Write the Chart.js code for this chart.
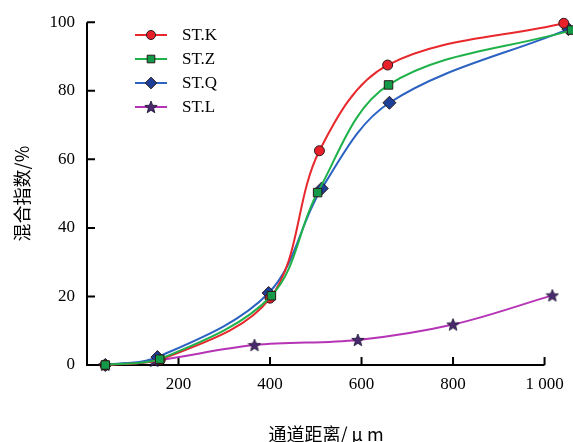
<!DOCTYPE html>
<html><head><meta charset="utf-8">
<script src="https://cdn.jsdelivr.net/npm/chart.js@4/dist/chart.umd.min.js"></script>
<style>html,body{margin:0;padding:0;background:#fff}#wrap{width:573px;height:442px}</style>
</head><body><div id="wrap"><canvas id="c" width="573" height="442"></canvas></div>
<script>
const seriesNames = ['ST.K','ST.Z','ST.Q','ST.L'];
const kX = [40,160,400,508,657,1042];
const kY = [0,1.5,19.5,62.5,87.5,99.7];
const zX = [40,159,403,504,659,1059];
const zY = [0,1.7,20.2,50.3,81.7,97.7];
const qX = [40,154,397,513,661,1052];
const qY = [0,2.3,21,51.5,76.5,98];
const lX = [40,147,366,592,800,1017];
const lY = [0,1.2,5.8,7.3,11.8,20.3];
const xTicks = [200,400,600,800,1000];
const yTicks = [20,40,60,80,100];
const yTitle = '混合指数/%';
const xTitle = '通道距离/ μ m';

function pts(xs, ys){ return xs.map((x,i)=>({x:x,y:ys[i]})); }

const star = document.createElement('canvas');
star.width = 14; star.height = 14;
(function(){
  const g = star.getContext('2d');
  g.beginPath();
  for(let i=0;i<10;i++){
    const r = i%2===0 ? 6.5 : 2.8;
    const a = -Math.PI/2 + i*Math.PI/5;
    const px = 7 + r*Math.cos(a), py = 7.5 + r*Math.sin(a);
    if(i===0) g.moveTo(px,py); else g.lineTo(px,py);
  }
  g.closePath();
  g.fillStyle = '#4a2a6e'; g.fill();
  g.strokeStyle = '#1a1030'; g.lineWidth = 0.8; g.stroke();
})();

const common = {borderWidth:2, tension:0.35, clip:false, pointBorderWidth:1, pointBorderColor:'#2a1a1a'};
const datasets = [
  Object.assign({label:seriesNames[0], order:1, data:pts(kX,kY), borderColor:'#e8282c', backgroundColor:'#e8202a', pointStyle:'circle', pointRadius:5}, common),
  Object.assign({label:seriesNames[1], order:0, data:pts(zX,zY), borderColor:'#1fb24a', backgroundColor:'#139a48', pointStyle:'rect', pointRadius:6}, common),
  Object.assign({label:seriesNames[2], order:2, data:pts(qX,qY), borderColor:'#2c62c2', backgroundColor:'#1e3f98', pointStyle:'rectRot', pointRadius:6.5}, common),
  Object.assign({label:seriesNames[3], order:3, data:pts(lX,lY), borderColor:'#b534b5', backgroundColor:'#4a2a6e', pointStyle:star, pointRadius:6}, common)
];

const axesPlugin = {
  id:'axesPlugin',
  beforeDatasetsDraw(chart){
    const ctx = chart.ctx, xs = chart.scales.x, ys = chart.scales.y;
    const x0 = xs.getPixelForValue(0), y0 = ys.getPixelForValue(0);
    ctx.save();
    ctx.strokeStyle = '#000'; ctx.lineWidth = 2; ctx.lineCap='butt';
    ctx.beginPath();
    ctx.moveTo(x0, ys.getPixelForValue(100));
    ctx.lineTo(x0, y0);
    ctx.lineTo(xs.getPixelForValue(1000), y0);
    ctx.stroke();
    ctx.beginPath();
    yTicks.forEach(v=>{ const p = ys.getPixelForValue(v); ctx.moveTo(x0,p); ctx.lineTo(x0+8,p); });
    xTicks.forEach(v=>{ const p = xs.getPixelForValue(v); ctx.moveTo(p,y0); ctx.lineTo(p,y0-8); });
    ctx.stroke();
    ctx.restore();
  },
  afterDraw(chart){
    const ctx = chart.ctx;
    ctx.save();
    chart.data.datasets.forEach((ds,i)=>{
      const y = 35 + i*24;
      ctx.strokeStyle = ds.borderColor; ctx.lineWidth = 2;
      ctx.beginPath(); ctx.moveTo(135,y); ctx.lineTo(167,y); ctx.stroke();
      ctx.fillStyle = ds.backgroundColor; ctx.strokeStyle = ds.pointBorderColor; ctx.lineWidth = 1;
      Chart.helpers.drawPoint(ctx, {pointStyle: ds.pointStyle, radius: ds.pointRadius*0.9, borderWidth:1, rotation:0}, 151, y);
      ctx.fillStyle = '#000'; ctx.font = '17px "Liberation Serif"'; ctx.textBaseline = 'middle'; ctx.textAlign='left';
      ctx.fillText(ds.label, 182, y+1);
    });
    ctx.restore();
  }
};

new Chart(document.getElementById('c'), {
  type:'line',
  data:{datasets:datasets},
  options:{
    responsive:false, animation:false,
    layout:{padding:{left:0, top:21, right:0, bottom:0}},
    plugins:{legend:{display:false}, tooltip:{enabled:false}},
    scales:{
      x:{type:'linear', min:0, max:1045,
        afterFit(s){ s.height = 77; },
        afterBuildTicks(s){ s.ticks = xTicks.map(v=>({value:v})); },
        grid:{display:false, drawTicks:false}, border:{display:false},
        ticks:{padding:9, color:'#000', font:{family:'"Liberation Serif"', size:17},
          callback:(v)=> v===1000 ? '1 000' : String(v)},
        title:{display:true, text:xTitle, color:'#000', padding:{top:0,bottom:0},
          font:{family:'"Noto Sans CJK SC"', size:18, lineHeight:0.9}}
      },
      y:{type:'linear', min:0, max:100,
        afterFit(s){ s.width = 87; },
        afterBuildTicks(s){ s.ticks = [0].concat(yTicks).map(v=>({value:v})); },
        grid:{display:false, drawTicks:false}, border:{display:false},
        ticks:{padding:12, color:'#000', font:{family:'"Liberation Serif"', size:17}},
        title:{display:true, text:yTitle, color:'#000', padding:{top:11,bottom:0},
          font:{family:'"Noto Sans CJK SC"', size:18}}
      }
    }
  },
  plugins:[axesPlugin]
});
</script>
</body></html>
